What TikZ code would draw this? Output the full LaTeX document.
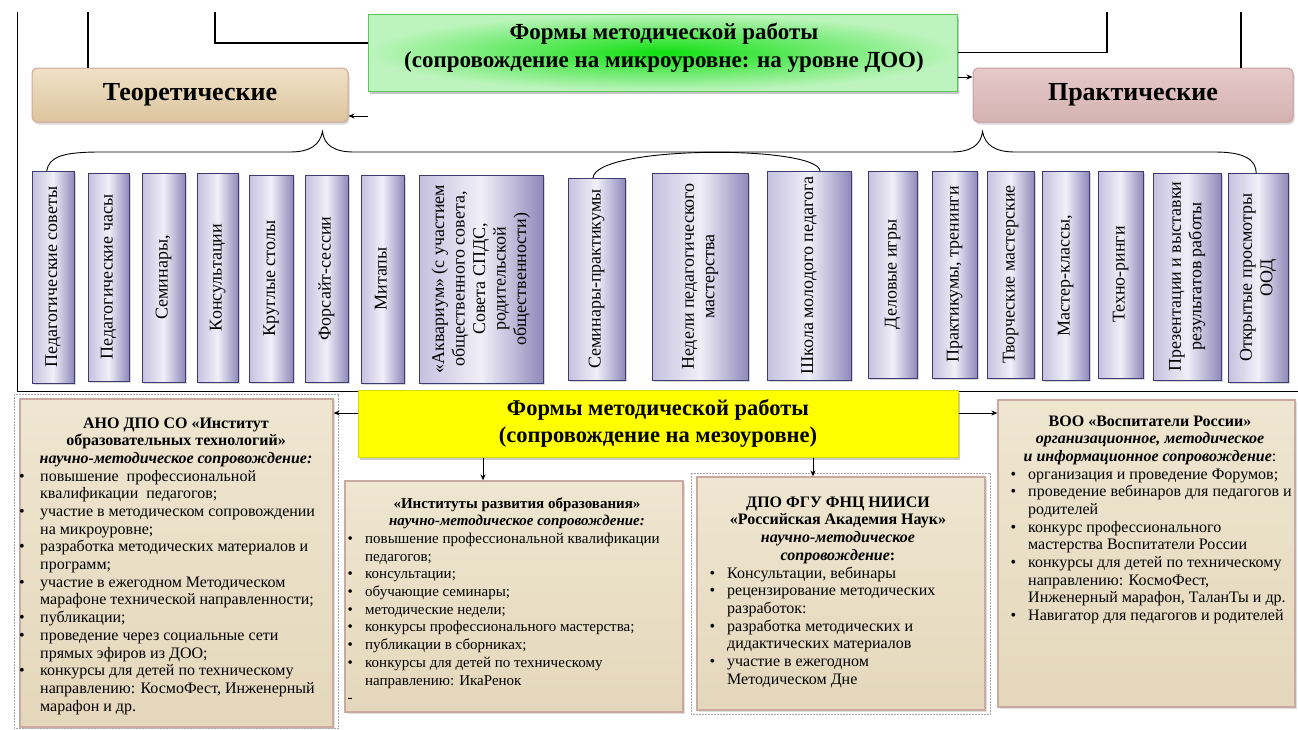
\documentclass[tikz,border=0pt]{standalone}
\usepackage{fontspec}
\setmainfont{Liberation Serif}
\usepackage{graphicx}
\usetikzlibrary{shadows,arrows.meta,calc}
\definecolor{barL}{HTML}{C6C0DF}
\definecolor{barM}{HTML}{F1EFF8}
\definecolor{barR}{HTML}{9189BB}
\definecolor{barD}{HTML}{3C3C70}
\definecolor{teorT}{HTML}{F0E1C6}
\definecolor{teorB}{HTML}{DCC49E}
\definecolor{teorD}{HTML}{D0A898}
\definecolor{prakT}{HTML}{E6C9C9}
\definecolor{prakB}{HTML}{D5B2B2}
\definecolor{prakD}{HTML}{C8A0A0}
\definecolor{grnIn}{HTML}{10E010}
\definecolor{grnOut}{HTML}{BDF4BD}
\definecolor{grnD}{HTML}{5CC45C}
\definecolor{yel}{HTML}{FFFF00}
\definecolor{yelD}{HTML}{D8D800}
\definecolor{parT}{HTML}{EFE6D1}
\definecolor{parB}{HTML}{E4D7BB}
\definecolor{parD}{HTML}{C9A9A0}
\newlength\bw
\newcommand\bul[1]{\makebox[\bw][l]{•}#1}
\newcommand\cnt[1]{\hspace*{\bw}#1}
\newcommand\fbar[6]{%
  \node[barbox, minimum width={(#3-#2)*1pt}, minimum height={(#5-#4)*1pt}] (#1) at ({(#2+#3)/2},{(#4+#5)/2}) {};
  \node[bartext] (#1t) at (#1.center) {\rotatebox{90}{\begin{tabular}{@{}c@{}}#6\end{tabular}}};}
\begin{document}
\begin{tikzpicture}[x=1pt,y=-1pt,
  ln/.style={line width=1.2pt},
  thin/.style={line width=0.9pt},
  arr/.style={line width=1pt,-{Stealth[length=6pt,width=5pt]}},
  barbox/.style={draw=barD,line width=0.8pt,left color=barL,right color=barR,middle color=barM,inner sep=0pt,outer sep=0pt,drop shadow={shadow xshift=2pt,shadow yshift=-2pt,fill=black!30}},
  bartext/.style={inner sep=0pt,font=\fontsize{18}{20.5}\selectfont},
  headbox/.style={rounded corners=5pt,line width=1pt,inner sep=0pt,font=\fontsize{26}{28}\selectfont\bfseries,drop shadow={shadow xshift=1.5pt,shadow yshift=-2.5pt,fill=black!30}},
  formbox/.style={inner sep=0pt,line width=1pt,font=\fontsize{22.5}{27}\selectfont\bfseries,align=center},
  infobox/.style={top color=parT,bottom color=parB,draw=parD,line width=1.3pt,inner sep=0pt,drop shadow={shadow xshift=1.5pt,shadow yshift=-1.5pt,fill=black!25}},
  ttl/.style={inner sep=0pt,anchor=base,font=\fontsize{16}{17.7}\selectfont},
  body/.style={inner sep=0pt,anchor=base west,font=\fontsize{16}{17.7}\selectfont},
  small/.style={font=\fontsize{15}{17.7}\selectfont},
  sel/.style={draw=gray!70,line width=0.6pt,dash pattern=on 2pt off 1pt}
]
\useasboundingbox (0,0) rectangle (1298,729);
\fill[white] (0,0) rectangle (1298,729);

% page frame lines
\coordinate (c17t) at (17,12);
\coordinate (c17b) at (17,391);
\coordinate (hr) at (1298,391);
\draw[thin] (c17t) -- (c17b) -- (hr);

% top level
\node[formbox, minimum width=589pt, minimum height=77pt, inner color=grnIn, outer color=grnOut, draw=grnD, drop shadow={shadow xshift=2pt,shadow yshift=-2.5pt,fill=black!45}] (green) at (662.5,52.5) {};
\node[formbox, font=\fontsize{23}{28}\selectfont\bfseries] (greent) at (664,48) {Формы методической работы\\(сопровождение на микроуровне: на уровне ДОО)};

\node[headbox, minimum width=316pt, minimum height=54pt, top color=teorT, bottom color=teorB, draw=teorD] (teor) at (190,95) {Теоретические};
\node[headbox, minimum width=320pt, minimum height=54pt, top color=prakT, bottom color=prakB, draw=prakD] (prakt) at (1133,95) {Практические};

\coordinate (l88) at (88,12);
\draw[ln] (l88) -- (teor.north -| l88);
\coordinate (l215) at (215,12);
\coordinate (l215b) at (215,43);
\draw[ln] (l215) -- (l215b) -- (green.west |- l215b);
\coordinate (l1107) at (1107,12);
\draw[ln] (green.east) -- (l1107 |- green.east) -- (l1107);
\coordinate (l1241) at (1241,12);
\draw[ln] (l1241) -- (prakt.north -| l1241);

\coordinate (ay1) at (0,77);
\draw[arr] (green.east |- ay1) -- (prakt.west |- ay1);
\coordinate (ay2) at (368,116);
\draw[arr] (ay2) -- (teor.east |- ay2);

% bars
\fbar{b1}{32}{74}{171}{383}{Педагогические советы}
\fbar{b2}{88}{129}{173}{381}{Педагогические часы}
\fbar{b3}{142}{185}{173}{382}{Семинары,}
\fbar{b4}{197}{238}{173}{382}{Консультации}
\fbar{b5}{249}{293}{175}{382}{Круглые столы}
\fbar{b6}{305}{348}{175}{382}{Форсайт-сессии}
\fbar{b7}{361}{404}{175}{383}{Митапы}
\fbar{b8}{419}{543}{175}{383}{«Аквариум» (с участием\\общественного совета,\\Совета СПДС,\\родительской\\общественности)}
\fbar{b9}{568}{625}{178}{380}{Семинары-практикумы}
\fbar{b10}{652}{748}{173}{380}{Недели педагогического\\мастерства}
\fbar{b11}{767}{851}{171}{380}{Школа молодого педагога}
\fbar{b12}{868}{917}{171}{378}{Деловые игры}
\fbar{b13}{932}{977}{171}{378}{Практикумы, тренинги}
\fbar{b14}{987}{1034}{171}{378}{Творческие мастерские}
\fbar{b15}{1042}{1089}{171}{380}{Мастер-классы,}
\fbar{b16}{1098}{1143}{171}{378}{Техно-ринги}
\fbar{b17}{1153}{1221}{173}{380}{Презентации и выставки\\результатов работы}
\fbar{b18}{1228}{1288}{173}{382}{Открытые просмотры\\ООД}

% braces
\coordinate (bs) at ($(b1.north west)!0.35!(b1.north east)$);
\coordinate (be) at ($(b18.north west)!0.47!(b18.north east)$);
\coordinate (tp) at ($(teor.south east)+(-26,9)$);
\coordinate (pp) at ($(prakt.south west)+(10,9)$);
\draw[thin] (bs) .. controls (49,157) and (62,152) .. (100,152) -- (290,152)
  .. controls (310,152) and (320,145) .. (tp) .. controls (324,145) and (334,152) .. (354,152)
  -- (951,152) .. controls (971,152) and (981,145) .. (pp) .. controls (985,145) and (995,152) .. (1015,152)
  -- (1215,152) .. controls (1245,152) and (1256,160) .. (be);
\coordinate (a1) at ($(b9.north west)+(25,0)$);
\coordinate (a2) at ($(b11.north west)+(53,0)$);
\draw[thin] (a1) .. controls (595,145) and (818,145) .. (a2);

% meso level
\node[formbox, minimum width=600pt, minimum height=67pt, fill=yel, draw=yelD, drop shadow={shadow xshift=2pt,shadow yshift=-2.5pt,fill=black!40}] (yellow) at (658,423.5) {Формы методической работы\\(сопровождение на мезоуровне)};

\node[infobox, minimum width=313pt, minimum height=328pt] (ano) at (176.5,563) {};
\node[infobox, minimum width=338pt, minimum height=231pt] (inst) at (514,596.5) {};
\node[infobox, minimum width=288pt, minimum height=233pt] (ran) at (841,593.5) {};
\node[infobox, minimum width=297pt, minimum height=307pt] (voo) at (1146.5,553.5) {};

\draw[sel] ($(ano.north west)+(-5,-4)$) rectangle ($(ano.south east)+(5,1)$);
\draw[sel] ($(ran.north west)+(-5,-3)$) rectangle ($(ran.south east)+(5,4)$);

\coordinate (yl) at (0,413);
\draw[arr] (yellow.west |- yl) -- (ano.east |- yl);
\draw[arr] (yellow.east |- yl) -- (voo.west |- yl);
\coordinate (d1) at (483,0);
\draw[arr] (yellow.south -| d1) -- (inst.north -| d1);
\coordinate (d2) at (813,0);
\draw[arr] (yellow.south -| d2) -- (ran.north -| d2);

% box texts
\node[ttl] (anot) at (176,428) {\begin{tabular}[t]{@{}c@{}}\bfseries АНО ДПО СО «Институт\\ \bfseries образовательных технологий»\\ \bfseries\itshape научно-методическое сопровождение:\end{tabular}};
\node[body] (anob) at (19,481) {\setlength\bw{21pt}\begin{tabular}[t]{@{}l@{}}
\bul{повышение\ \ профессиональной}\\
\cnt{квалификации\ \ педагогов;}\\
\bul{участие в методическом сопровождении}\\
\cnt{на микроуровне;}\\
\bul{разработка методических материалов и}\\
\cnt{программ;}\\
\bul{участие в ежегодном Методическом}\\
\cnt{марафоне технической направленности;}\\
\bul{публикации;}\\
\bul{проведение через социальные сети}\\
\cnt{прямых эфиров из ДОО;}\\
\bul{конкурсы для детей по техническому}\\
\cnt{направлению: КосмоФест, Инженерный}\\
\cnt{марафон и др.}
\end{tabular}};

\node[ttl, small] (instt) at (517,508) {\begin{tabular}[t]{@{}c@{}}\bfseries «Институты развития образования»\\ \bfseries\itshape научно-методическое сопровождение:\end{tabular}};
\node[body, small] (instb) at (347.5,543.4) {\setlength\bw{17.5pt}\begin{tabular}[t]{@{}l@{}}
\bul{повышение профессиональной квалификации}\\
\cnt{педагогов;}\\
\bul{консультации;}\\
\bul{обучающие семинары;}\\
\bul{методические недели;}\\
\bul{конкурсы профессионального мастерства;}\\
\bul{публикации в сборниках;}\\
\bul{конкурсы для детей по техническому}\\
\cnt{направлению: ИкаРенок}\\
-
\end{tabular}};

\node[ttl] (rant) at (838,507) {\begin{tabular}[t]{@{}c@{}}\bfseries ДПО ФГУ ФНЦ НИИСИ\\ \bfseries «Российская Академия Наук»\\ \bfseries\itshape научно-методическое\\ \bfseries{\itshape сопровождение}:\end{tabular}};
\node[body] (ranb) at (709.5,578) {\setlength\bw{17.5pt}\begin{tabular}[t]{@{}l@{}}
\bul{Консультации, вебинары}\\
\bul{рецензирование методических}\\
\cnt{разработок:}\\
\bul{разработка методических и}\\
\cnt{дидактических материалов}\\
\bul{участие в ежегодном}\\
\cnt{Методическом Дне}
\end{tabular}};

\node[ttl] (voot) at (1150,426) {\begin{tabular}[t]{@{}c@{}}\bfseries ВОО «Воспитатели России»\\ \bfseries\itshape организационное, методическое\\ {\bfseries\itshape и информационное сопровождение}:\end{tabular}};
\node[body] (voob) at (1010.5,479) {\setlength\bw{17.5pt}\begin{tabular}[t]{@{}l@{}}
\bul{организация и проведение Форумов;}\\
\bul{проведение вебинаров для педагогов и}\\
\cnt{родителей}\\
\bul{конкурс профессионального}\\
\cnt{мастерства Воспитатели России}\\
\bul{конкурсы для детей по техническому}\\
\cnt{направлению: КосмоФест,}\\
\cnt{Инженерный марафон, ТаланТы и др.}\\
\bul{Навигатор для педагогов и родителей}
\end{tabular}};
\end{tikzpicture}
\end{document}
